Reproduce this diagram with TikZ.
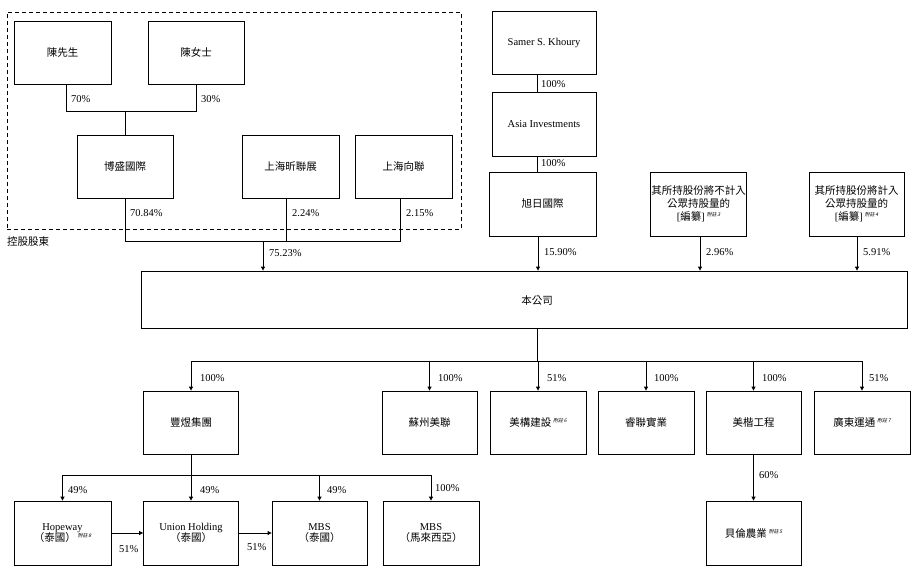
\documentclass[tikz,border=0pt]{standalone}
\usepackage{fontspec}
\setmainfont{Liberation Serif}
\newfontfamily\cjk{Noto Sans CJK TC}
\newfontfamily\cjki[FakeSlant=0.25]{Noto Sans CJK TC}
\usetikzlibrary{arrows.meta}
\newcommand{\fnote}[1]{\,\raisebox{0.8ex}{\cjki\fontsize{5}{5}\selectfont 附註\,#1}}
\begin{document}
\begin{tikzpicture}[x=1pt,y=-1pt,
  box/.style={draw, line width=0.8pt, inner sep=1pt, align=center, font=\fontsize{10.5}{13}\selectfont},
  lbl/.style={anchor=west, inner sep=0pt, font=\fontsize{10.5}{12}\selectfont},
  conn/.style={line width=0.8pt},
  arr/.style={line width=0.8pt, -{Triangle[length=4pt,width=4pt]}}]
\useasboundingbox (0,0) rectangle (913,573);

% controlling shareholders group
\node[draw, dashed, dash pattern=on 4pt off 3pt, line width=0.8pt, minimum width=454, minimum height=217, inner sep=0pt] (ctrl) at (234,120.5) {};
\node[anchor=west, inner sep=0pt, font=\fontsize{10.5}{12}\selectfont] (ctrlText) at (7,241) {\cjk 控股股東};

\node[box, minimum width=97, minimum height=63] (chenM) at (62.5,52.5) {\cjk 陳先生};
\node[box, minimum width=96, minimum height=63] (chenF) at (196,52.5) {\cjk 陳女士};
\node[box, minimum width=96, minimum height=63] (boSheng) at (125,166.5) {\cjk 博盛國際};
\node[box, minimum width=97, minimum height=63] (shXin) at (290.5,166.5) {\cjk 上海昕聯展};
\node[box, minimum width=97, minimum height=63] (shXiang) at (403.5,166.5) {\cjk 上海向聯};

% right top chain
\node[box, minimum width=104, minimum height=63] (samer) at (544,42.5) {Samer S. Khoury};
\node[box, minimum width=104, minimum height=64] (asia) at (544,124) {Asia Investments};
\node[box, minimum width=107, minimum height=64] (xuri) at (542.5,204) {\cjk 旭日國際};
\node[box, minimum width=95, minimum height=64] (note1) at (698.5,204) {{\cjk 其所持股份將不計入}\\{\cjk 公眾持股量的}\\{}[{\cjk 編纂}]\fnote{3}};
\node[box, minimum width=95, minimum height=64] (note2) at (856.5,204) {{\cjk 其所持股份將計入}\\{\cjk 公眾持股量的}\\{}[{\cjk 編纂}]\fnote{4}};

% company
\node[box, minimum width=766, minimum height=57] (company) at (524,299.5) {};
\node[inner sep=0pt, font=\fontsize{10.5}{12}\selectfont] (companyText) at (537,301) {\cjk 本公司};

% second row
\node[box, minimum width=95, minimum height=63] (fengyu) at (191,422.5) {\cjk 豐煜集團};
\node[box, minimum width=95, minimum height=63] (suzhou) at (429.5,422.5) {\cjk 蘇州美聯};
\node[box, minimum width=96, minimum height=63] (meigou) at (538,422.5) {{\cjk 美構建設}\fnote{6}};
\node[box, minimum width=96, minimum height=63] (ruilian) at (646,422.5) {\cjk 睿聯實業};
\node[box, minimum width=95, minimum height=63] (meikai) at (753.5,422.5) {\cjk 美楷工程};
\node[box, minimum width=96, minimum height=63] (guangdong) at (862,422.5) {{\cjk 廣東運通}\fnote{7}};

% third row
\node[box, minimum width=97, minimum height=64, font=\fontsize{10.5}{11.5}\selectfont] (hopeway) at (62.5,533) {Hopeway\\{\cjk （泰國）}\fnote{8}};
\node[box, minimum width=95, minimum height=64, font=\fontsize{10.5}{11.5}\selectfont] (union) at (191,533) {Union Holding\\{\cjk （泰國）}};
\node[box, minimum width=95, minimum height=64, font=\fontsize{10.5}{11.5}\selectfont] (mbsT) at (319.5,533) {MBS\\{\cjk （泰國）}};
\node[box, minimum width=96, minimum height=64, font=\fontsize{10.5}{11.5}\selectfont] (mbsM) at (431,533) {MBS\\{\cjk （馬來西亞）}};
\node[box, minimum width=95, minimum height=64] (beilun) at (753.5,533) {{\cjk 貝倫農業}\fnote{5}};

% connectors: Chen family to Bosheng
\coordinate (jA) at (66,111);
\coordinate (jB) at (196,111);
\coordinate (jC) at (125,111);
\draw[conn] (chenM.south -| jA) -- (jA) -- (jB) -- (chenF.south -| jB);
\draw[conn] (jC) -- (boSheng.north);
\node[lbl] (p70) at (71,99) {70\%};
\node[lbl] (p30) at (201,99) {30\%};

% controlling group to company
\coordinate (k1) at (125,241);
\coordinate (k2) at (286,241);
\coordinate (k3) at (400,241);
\coordinate (k0) at (263,241);
\draw[conn] (boSheng.south) -- (k1) -- (k3) -- (shXiang.south -| k3);
\draw[conn] (shXin.south -| k2) -- (k2);
\draw[arr] (k0) -- (company.north -| k0);
\node[lbl] (p7084) at (130,213) {70.84\%};
\node[lbl] (p224) at (292,213) {2.24\%};
\node[lbl] (p215) at (406,213) {2.15\%};
\node[lbl] (p7523) at (269,253) {75.23\%};

% right chain
\coordinate (xr) at (537,0);
\coordinate (xr2) at (538,0);
\coordinate (n1) at (700,0);
\coordinate (n2) at (857,0);
\draw[conn] (samer.south -| xr) -- (asia.north -| xr);
\draw[conn] (asia.south -| xr) -- (xuri.north -| xr);
\draw[arr] (xuri.south -| xr2) -- (company.north -| xr2);
\draw[arr] (note1.south -| n1) -- (company.north -| n1);
\draw[arr] (note2.south -| n2) -- (company.north -| n2);
\node[lbl] (pS1) at (541,84) {100\%};
\node[lbl] (pS2) at (541,163) {100\%};
\node[lbl] (p1590) at (544,252) {15.90\%};
\node[lbl] (p296) at (706,252) {2.96\%};
\node[lbl] (p591) at (863,252) {5.91\%};

% company to subsidiaries
\coordinate (c0) at (537,361);
\draw[conn] (company.south -| c0) -- (c0);
\draw[conn] (fengyu.north |- c0) -- (guangdong.north |- c0);
\draw[arr] (fengyu.north |- c0) -- (fengyu.north);
\draw[arr] (suzhou.north |- c0) -- (suzhou.north);
\draw[arr] (meigou.north |- c0) -- (meigou.north);
\draw[arr] (ruilian.north |- c0) -- (ruilian.north);
\draw[arr] (meikai.north |- c0) -- (meikai.north);
\draw[arr] (guangdong.north |- c0) -- (guangdong.north);
\node[lbl] (pF) at (200,378) {100\%};
\node[lbl] (pSu) at (438,378) {100\%};
\node[lbl] (pMg) at (547,378) {51\%};
\node[lbl] (pRl) at (654,378) {100\%};
\node[lbl] (pMk) at (762,378) {100\%};
\node[lbl] (pGd) at (869,378) {51\%};

% Fengyu to third row
\coordinate (f0) at (191,475);
\draw[conn] (fengyu.south) -- (fengyu.south |- f0);
\draw[conn] (hopeway.north |- f0) -- (mbsM.north |- f0);
\draw[arr] (hopeway.north |- f0) -- (hopeway.north);
\draw[arr] (union.north |- f0) -- (union.north);
\draw[arr] (mbsT.north |- f0) -- (mbsT.north);
\draw[arr] (mbsM.north |- f0) -- (mbsM.north);
\node[lbl] (pH) at (68,490) {49\%};
\node[lbl] (pU) at (200,490) {49\%};
\node[lbl] (pT) at (327,490) {49\%};
\node[lbl] (pM) at (435,488) {100\%};

\draw[arr] (hopeway.east) -- (union.west);
\draw[arr] (union.east) -- (mbsT.west);
\node[lbl] (pHU) at (119,549) {51\%};
\node[lbl] (pUT) at (247,547) {51\%};

\draw[arr] (meikai.south) -- (beilun.north);
\node[lbl] (p60) at (759,475) {60\%};
\end{tikzpicture}
\end{document}
